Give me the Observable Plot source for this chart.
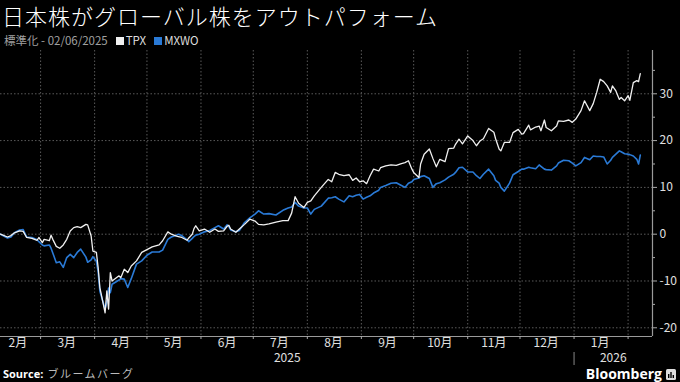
<!DOCTYPE html>
<html><head><meta charset="utf-8">
<script src="https://cdn.jsdelivr.net/npm/d3@7"></script>
<script src="https://cdn.jsdelivr.net/npm/@observablehq/plot@0.6"></script>
<style>
html,body{margin:0;padding:0;background:#000;}
#wrap{position:relative;width:680px;height:382px;background:#000;overflow:hidden;font-family:"Noto Sans CJK JP","Noto Sans",sans-serif;}
#title{position:absolute;left:2px;top:2px;font-size:22px;line-height:26px;color:#fff;letter-spacing:1px;white-space:nowrap;font-weight:300;}
#sub{position:absolute;left:4px;top:33px;font-size:11.5px;line-height:14px;color:#a0a0a0;white-space:nowrap;}
.sw{display:inline-block;width:8px;height:8px;margin:0 2px 0 8px;vertical-align:0px;}
#chart{position:absolute;left:0;top:48px;}
#source{position:absolute;left:3px;top:367px;font-size:11px;line-height:13px;color:#bbb;white-space:nowrap;}
#source b{color:#fff;font-family:"Open Sans","Noto Sans",sans-serif;margin-right:4px;}
#source span{letter-spacing:1.5px;}
#logo{position:absolute;right:4px;top:366px;font-size:14px;line-height:15px;font-weight:bold;color:#fff;font-family:"Open Sans","Noto Sans",sans-serif;white-space:nowrap;}
#logo svg{vertical-align:-1px;margin-left:4px;}
</style></head>
<body>
<div id="wrap">
  <div id="title">日本株がグローバル株をアウトパフォーム</div>
  <div id="sub">標準化 - 02/06/2025<span class="sw" style="background:#f0f0f0"></span><span style="color:#ddd">TPX</span><span class="sw" style="background:#2a7ad6"></span><span style="color:#ddd">MXWO</span></div>
  <div id="chart"></div>
  <div id="source"><b>Source:</b><span>ブルームバーグ</span></div>
  <div id="logo">Bloomberg<svg width="10" height="11" viewBox="0 0 10 11"><rect x="0" y="0" width="10" height="11" rx="1.5" fill="#ddd"/><rect x="2" y="5" width="1.4" height="4" fill="#000"/><rect x="4.3" y="3" width="1.4" height="6" fill="#000"/><rect x="6.6" y="6" width="1.4" height="3" fill="#000"/></svg></div>
</div>
<script>
const dates = ["2025-02-06","2025-02-10","2025-02-12","2025-02-14","2025-02-17","2025-02-19","2025-02-21","2025-02-24","2025-02-27","2025-02-28",
"2025-03-02","2025-03-03","2025-03-06","2025-03-07","2025-03-08","2025-03-10","2025-03-12","2025-03-14","2025-03-16","2025-03-18",
"2025-03-20","2025-03-22","2025-03-24","2025-03-27","2025-03-28","2025-03-30","2025-03-31","2025-04-02","2025-04-03","2025-04-04",
"2025-04-07","2025-04-08","2025-04-09","2025-04-10","2025-04-11","2025-04-15","2025-04-16","2025-04-18","2025-04-20","2025-04-22",
"2025-04-25","2025-04-28","2025-05-01","2025-05-04","2025-05-08","2025-05-10","2025-05-13","2025-05-15","2025-05-18","2025-05-19",
"2025-05-21","2025-05-24","2025-05-25","2025-05-27","2025-05-28","2025-05-29","2025-05-31","2025-06-03","2025-06-06","2025-06-09",
"2025-06-11","2025-06-14","2025-06-16","2025-06-17","2025-06-18","2025-06-21","2025-06-23","2025-06-26","2025-06-29","2025-07-02",
"2025-07-04","2025-07-07","2025-07-10","2025-07-14","2025-07-18","2025-07-21","2025-07-23","2025-07-25","2025-07-27","2025-07-30",
"2025-08-01","2025-08-03","2025-08-05","2025-08-09","2025-08-13","2025-08-15","2025-08-17","2025-08-19","2025-08-22","2025-08-25",
"2025-08-27","2025-08-29","2025-08-31","2025-09-02","2025-09-04","2025-09-06","2025-09-08","2025-09-11","2025-09-12","2025-09-15",
"2025-09-18","2025-09-21","2025-09-24","2025-09-26","2025-09-28","2025-09-30","2025-10-01","2025-10-04","2025-10-05","2025-10-07",
"2025-10-10","2025-10-12","2025-10-14","2025-10-16","2025-10-19","2025-10-21","2025-10-24","2025-10-25","2025-10-27","2025-10-29",
"2025-11-01","2025-11-04","2025-11-06","2025-11-08","2025-11-10","2025-11-13","2025-11-16","2025-11-17","2025-11-19","2025-11-20",
"2025-11-22","2025-11-25","2025-11-27","2025-11-30","2025-12-02","2025-12-03","2025-12-06","2025-12-07","2025-12-10","2025-12-12",
"2025-12-13","2025-12-15","2025-12-16","2025-12-19","2025-12-22","2025-12-23","2025-12-26","2025-12-29","2025-12-31","2026-01-02",
"2026-01-05","2026-01-07","2026-01-10","2026-01-12","2026-01-14","2026-01-16","2026-01-18","2026-01-20","2026-01-22","2026-01-23",
"2026-01-25","2026-01-27","2026-01-28","2026-01-30","2026-02-01","2026-02-02","2026-02-04","2026-02-06","2026-02-07","2026-02-08"];

const tpx = [0,-0.6,-0.3,0.3,0.7,0.6,-0.7,-0.9,-1.3,-0.7,
-1.8,-1.1,-1.4,-0.2,-1.1,-2.6,-3.0,-2.3,-1.1,0.7,
1.4,1.6,1.4,2.1,2.0,-0.4,-3.6,-3.9,-7.1,-11.4,
-16.8,-12.1,-16.0,-8.2,-10.0,-8.9,-9.3,-7.5,-8.2,-6.8,
-5.7,-3.9,-3.3,-2.7,-2.3,-1.4,0.5,0.0,-0.4,-0.5,
-0.7,-1.3,-0.8,0.0,1.2,1.8,0.7,1.1,0.4,1.1,
0.6,0.7,1.7,1.9,1.1,0.4,1.1,2.1,3.2,2.8,
2.1,2.0,2.2,2.6,2.9,2.9,4.5,8.0,6.6,5.7,
6.8,7.1,8.2,10.0,11.7,11.2,13.2,12.8,12.5,12.7,
11.5,12.0,11.2,11.4,10.8,12.5,13.9,13.5,14.2,14.6,
14.8,14.7,15.1,15.3,15.7,13.9,13.2,12.1,15.0,17.1,
18.2,16.2,14.4,16.0,15.5,18.3,18.4,19.2,20.3,19.3,
21.0,20.0,18.9,19.9,20.4,22.6,21.8,20.4,18.2,17.8,
19.6,19.6,21.7,22.4,21.4,21.5,23.3,22.3,22.9,23.1,
22.1,24.4,22.8,22.1,23.1,24.2,24.1,24.4,23.9,24.6,
26.4,28.5,26.4,27.9,30.3,33.1,32.6,31.7,30.3,31.7,
30.6,28.8,29.2,28.5,29.6,28.6,32.4,32.8,32.6,34.3];

const mxwo = [0,-0.8,-0.6,0.3,0.9,1.0,-0.6,-0.7,-1.2,-1.6,
-2.3,-2.5,-2.3,-3.0,-4.0,-6.1,-5.9,-7.1,-5.0,-4.3,
-5.0,-3.9,-3.2,-4.9,-6.0,-5.5,-4.8,-5.8,-8.0,-12.2,
-16.0,-14.5,-11.5,-12.5,-10.7,-9.8,-9.5,-9.6,-11.4,-9.5,
-6.4,-5.7,-4.5,-3.8,-3.8,-3.4,-1.1,-0.6,-0.2,0.0,
-0.3,-1.2,-1.6,-0.9,-0.5,-0.2,0.0,0.5,0.8,1.4,
1.8,1.1,2.0,1.6,0.9,0.5,0.8,2.5,3.5,4.3,
5.0,4.3,4.4,4.1,5.1,5.6,5.8,6.8,6.0,5.6,
5.6,4.3,5.3,6.0,7.7,7.8,8.0,7.5,6.9,8.2,
8.0,8.3,8.5,7.5,7.9,8.2,8.8,9.4,10.0,10.4,
10.9,11.0,10.4,10.0,10.9,11.2,11.7,12.0,12.3,12.5,
11.9,10.0,10.8,11.0,11.6,12.2,12.8,13.2,14.2,14.3,
13.3,13.3,12.5,11.9,12.8,13.9,12.5,11.5,10.9,10.0,
9.2,10.9,12.7,13.4,13.9,13.9,14.3,14.2,14.0,14.8,
14.5,13.9,13.8,13.7,14.6,15.2,15.8,15.7,15.2,14.6,
15.3,16.4,15.9,16.7,16.6,16.6,16.5,15.0,15.8,16.4,
17.1,17.8,17.6,17.2,17.1,17.0,16.7,16.0,15.0,16.9];

const yTickValues = [-20,-10,0,10,20,30];
const yMinorValues = [-15,-5,5,15,25,35];
const monthStartLabels = ["2025-03-01","2025-04-01","2025-05-01","2025-06-01","2025-07-01","2025-08-01","2025-09-01","2025-10-01","2025-11-01","2025-12-01","2026-01-01","2026-02-01"];
const monthLabelDates = ["2025-02-16","2025-03-16","2025-04-16","2025-05-16","2025-06-16","2025-07-16","2025-08-16","2025-09-16","2025-10-16","2025-11-16","2025-12-16","2026-01-16"];
const yearBreak = "2026-01-01";

const xDomain = [new Date("2025-02-06"), new Date("2026-02-15")];
const yDomain = [-21.86, 39.25];

const rows = dates.map((d, i) => ({date: new Date(d), tpx: tpx[i], mxwo: mxwo[i]}));
const monthStarts = monthStartLabels.map(d => new Date(d));
const monthMids = monthLabelDates.map(d => new Date(d));
const breakDate = new Date(yearBreak);
const yearCenters = [
  new Date((xDomain[0].getTime() + breakDate.getTime()) / 2),
  new Date((breakDate.getTime() + xDomain[1].getTime()) / 2)
];

const grid = {stroke: "#5a5a5a", strokeOpacity: 1, strokeDasharray: "1.5,2"};
const font = '"Noto Sans CJK JP","Noto Sans",sans-serif';

const chart = Plot.plot({
  width: 680, height: 318,
  marginLeft: 0, marginRight: 28, marginTop: 2, marginBottom: 30,
  style: {background: "#000", color: "#d8d8d8", fontFamily: font, fontSize: "12px", overflow: "visible"},
  x: {type: "utc", domain: xDomain},
  y: {domain: yDomain},
  marks: [
    Plot.gridY(yTickValues, grid),
    Plot.gridX(monthStarts, grid),
    Plot.ruleY([yDomain[0]], {stroke: "#9a9a9a", strokeWidth: 1.2}),
    Plot.ruleX([xDomain[1]], {stroke: "#9a9a9a", strokeWidth: 1.2}),
    Plot.axisY(yTickValues, {anchor: "right", tickSize: 4, tickPadding: 3, stroke: "#aaa", color: "#e0e0e0", fontSize: 12, tickFormat: d => String(d)}),
    Plot.axisY(yMinorValues.filter(v => v > yDomain[0] && v < yDomain[1]), {anchor: "right", tickSize: 2, stroke: "#aaa", tickFormat: () => ""}),
    Plot.axisX(monthStarts, {anchor: "bottom", tickSize: 3, stroke: "#aaa", tickFormat: () => ""}),
    Plot.axisX(monthMids, {anchor: "bottom", tickSize: 0, tickPadding: 2, color: "#e0e0e0", fontSize: 12, tickFormat: d => `${d.getUTCMonth() + 1}月`}),
    Plot.axisX(yearCenters, {anchor: "bottom", tickSize: 0, tickPadding: 17, color: "#e0e0e0", fontSize: 12, tickFormat: d => String(d.getUTCFullYear())}),
    Plot.axisX([breakDate], {anchor: "bottom", tickSize: 13, dy: 16, stroke: "#888", tickFormat: () => ""}),
    Plot.lineY(rows, {x: "date", y: "mxwo", stroke: "#2a7ad6", strokeWidth: 1.6}),
    Plot.lineY(rows, {x: "date", y: "tpx", stroke: "#f0f0f0", strokeWidth: 1.3})
  ]
});
document.getElementById("chart").append(chart);
</script>
</body></html>
